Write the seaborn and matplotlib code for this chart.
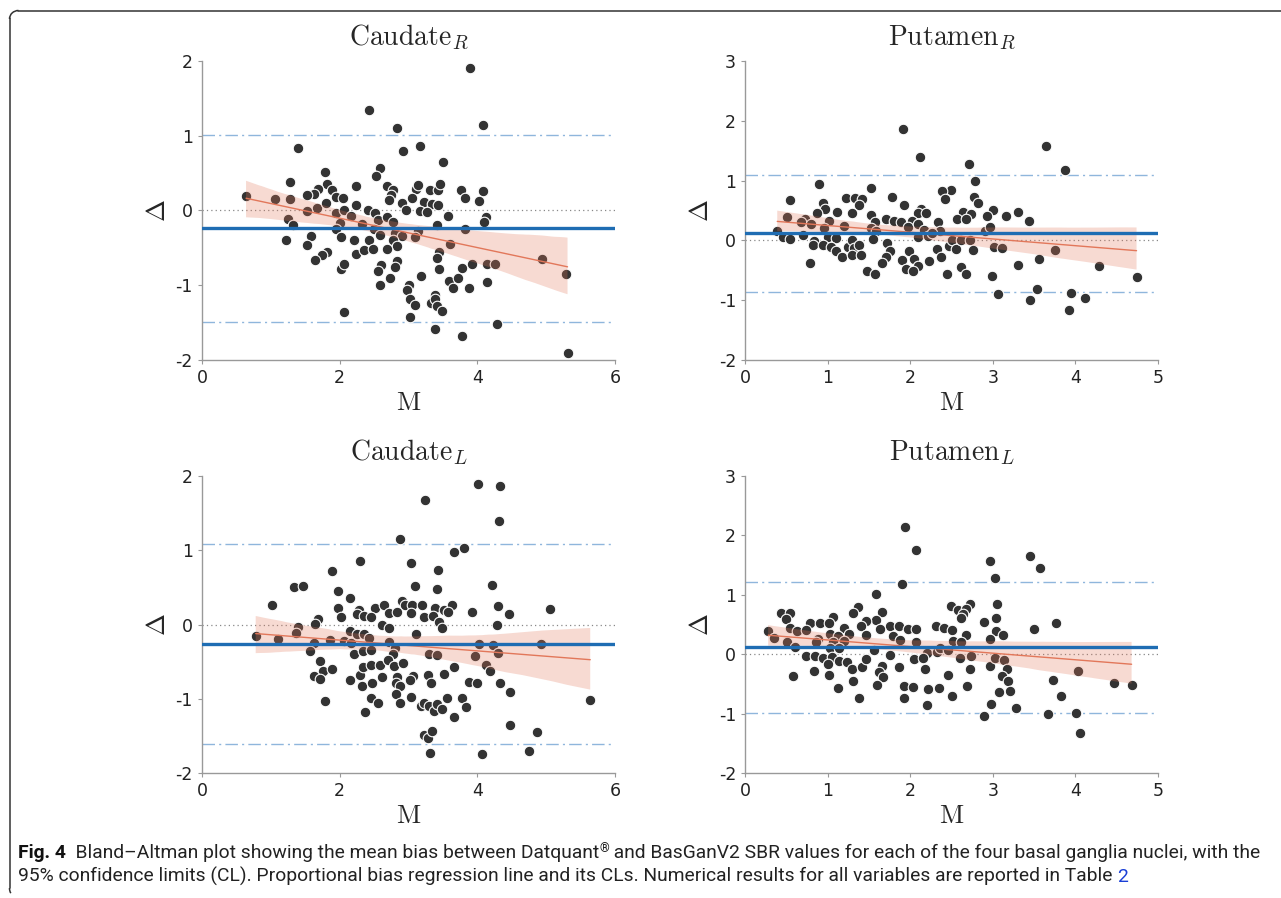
import matplotlib
matplotlib.use('Agg')
import matplotlib.pyplot as plt
from matplotlib import font_manager
from matplotlib.lines import Line2D
from matplotlib.patches import Arc
import seaborn as sns

# mean (M) and difference (delta) per nucleus
caudate_r_m = [3.90, 2.42, 4.08, 2.84, 1.40, 3.17, 2.92, 3.50, 2.58, 1.78, 2.53, 1.28, 1.81, 1.89, 2.24,
               2.69, 2.77, 1.68, 1.63, 1.53, 1.95, 2.05, 2.74, 2.71, 3.11, 3.14, 3.31, 3.43, 3.46, 3.76,
               3.82, 4.08, 4.02, 0.64, 1.06, 1.28, 1.67, 1.80, 1.53, 1.94, 2.07, 2.16, 2.23, 2.41, 2.51,
               2.90, 2.96, 3.05, 3.23, 3.34, 3.17, 3.27, 3.43, 3.58, 4.12, 4.09, 1.25, 1.32, 2.00, 1.95,
               2.32, 2.56, 2.50, 2.69, 2.77, 2.81, 2.91, 3.14, 3.10, 3.41, 3.82, 1.22, 1.58, 1.52, 2.02,
               2.21, 2.43, 2.58, 2.77, 2.84, 3.61, 1.81, 1.75, 1.64, 2.24, 2.36, 2.49, 2.69, 3.45, 3.42,
               2.84, 2.60, 2.80, 3.45, 3.78, 3.92, 4.14, 4.25, 4.94, 5.29, 2.02, 2.06, 2.55, 2.73, 3.18,
               2.58, 3.59, 3.72, 3.65, 3.88, 4.14, 3.01, 2.98, 3.02, 3.10, 3.32, 3.39, 3.38, 3.42, 3.49,
               2.06, 3.02, 3.38, 3.77, 4.29, 5.31]
caudate_r_d = [1.90, 1.35, 1.15, 1.10, 0.84, 0.86, 0.80, 0.65, 0.57, 0.51, 0.46, 0.38, 0.35, 0.28, 0.33,
               0.33, 0.27, 0.29, 0.22, 0.21, 0.18, 0.17, 0.21, 0.14, 0.29, 0.34, 0.27, 0.28, 0.35, 0.27,
               0.17, 0.26, 0.13, 0.20, 0.15, 0.16, 0.04, 0.10, -0.01, -0.04, 0.00, -0.07, 0.08, 0.01, -0.04,
               0.10, 0.00, 0.17, 0.11, 0.09, -0.01, -0.02, 0.07, -0.08, -0.09, -0.16, -0.11, -0.20, -0.17, -0.25,
               -0.18, -0.13, -0.25, -0.09, -0.16, -0.30, -0.34, -0.28, -0.36, -0.19, -0.25, -0.40, -0.34, -0.46, -0.35,
               -0.40, -0.40, -0.33, -0.40, -0.47, -0.45, -0.55, -0.60, -0.66, -0.58, -0.53, -0.51, -0.52, -0.55, -0.63,
               -0.68, -0.73, -0.76, -0.78, -0.77, -0.72, -0.72, -0.72, -0.65, -0.85, -0.78, -0.71, -0.81, -0.90, -0.88,
               -0.99, -0.94, -0.90, -1.04, -1.04, -0.95, -1.00, -1.06, -1.19, -1.27, -1.24, -1.13, -1.18, -1.28, -1.35,
               -1.36, -1.43, -1.58, -1.68, -1.52, -1.90]

putamen_r_m = [1.91, 2.12, 3.64, 2.71, 3.87, 2.79, 0.90, 1.52, 2.49, 2.38, 0.54, 1.22, 1.33, 1.42, 1.38,
               1.78, 1.93, 2.42, 2.77, 2.82, 0.95, 0.97, 1.11, 0.87, 1.30, 1.52, 2.13, 2.09, 2.19, 3.00,
               2.93, 3.16, 3.30, 2.64, 2.73, 0.51, 0.72, 0.68, 0.80, 1.02, 1.71, 1.80, 1.89, 2.02, 2.34,
               2.57, 2.68, 3.44, 1.57, 0.39, 0.96, 1.20, 1.52, 1.59, 1.97, 2.10, 2.17, 2.36, 2.91, 2.96,
               0.70, 0.46, 0.55, 1.00, 1.10, 1.55, 2.09, 2.21, 2.26, 0.83, 0.82, 0.94, 1.04, 1.10, 1.17,
               1.25, 1.29, 1.32, 1.38, 1.29, 1.40, 1.72, 1.76, 1.71, 1.66, 1.98, 2.04, 1.90, 2.09, 1.95,
               2.03, 2.23, 2.32, 2.37, 2.47, 2.51, 2.55, 2.62, 2.72, 2.76, 2.45, 2.62, 2.67, 1.48, 1.57,
               0.79, 3.01, 3.11, 3.75, 3.56, 3.30, 2.99, 3.06, 3.53, 3.45, 3.95, 4.12, 3.92, 4.28, 4.74]
putamen_r_d = [1.86, 1.40, 1.58, 1.28, 1.17, 0.99, 0.95, 0.88, 0.84, 0.83, 0.67, 0.71, 0.71, 0.69, 0.60,
               0.73, 0.59, 0.69, 0.73, 0.62, 0.62, 0.52, 0.48, 0.45, 0.45, 0.43, 0.52, 0.45, 0.45, 0.51,
               0.41, 0.40, 0.47, 0.47, 0.44, 0.39, 0.36, 0.30, 0.28, 0.32, 0.36, 0.33, 0.30, 0.32, 0.31,
               0.35, 0.35, 0.32, 0.30, 0.16, 0.21, 0.24, 0.21, 0.15, 0.22, 0.27, 0.17, 0.16, 0.16, 0.22,
               0.09, 0.06, 0.03, 0.06, 0.04, 0.02, 0.05, 0.08, 0.12, -0.01, -0.08, -0.07, -0.11, -0.17, -0.27,
               -0.11, 0.01, -0.12, -0.07, -0.25, -0.25, -0.04, -0.17, -0.27, -0.38, -0.18, -0.31, -0.33, -0.42, -0.47,
               -0.52, -0.34, -0.15, -0.28, -0.09, 0.00, -0.14, 0.01, 0.00, -0.16, -0.57, -0.44, -0.57, -0.51, -0.57,
               -0.37, -0.11, -0.13, -0.16, -0.31, -0.41, -0.59, -0.90, -0.82, -0.99, -0.88, -0.96, -1.16, -0.42, -0.62]

caudate_l_m = [4.01, 4.33, 3.24, 4.32, 2.88, 3.80, 3.66, 2.29, 3.04, 1.89, 3.43, 1.33, 1.46, 3.10, 4.21,
               1.97, 3.42, 2.15, 1.01, 1.97, 2.28, 2.52, 2.64, 2.91, 2.95, 3.05, 3.19, 3.39, 3.51, 3.63,
               3.58, 3.92, 4.30, 4.46, 5.05, 2.02, 2.25, 2.35, 2.46, 2.71, 2.83, 3.03, 3.22, 3.35, 3.44,
               1.68, 1.64, 1.40, 2.62, 2.71, 3.49, 4.28, 0.78, 1.10, 1.37, 1.63, 1.57, 1.86, 2.06, 2.15,
               2.17, 2.25, 2.35, 2.43, 2.72, 2.81, 2.77, 3.11, 3.30, 3.41, 4.03, 4.23, 4.92, 2.21, 2.34,
               2.46, 3.96, 4.30, 4.12, 4.18, 1.72, 1.76, 1.62, 1.71, 1.89, 2.15, 2.29, 2.34, 2.46, 2.58,
               2.70, 2.79, 2.92, 2.61, 2.84, 2.82, 2.87, 3.06, 3.02, 3.28, 3.33, 3.51, 3.66, 3.88, 3.99,
               4.33, 2.32, 2.47, 2.46, 2.55, 2.82, 2.88, 3.03, 1.79, 2.37, 3.18, 3.22, 3.30, 3.37, 3.41,
               3.49, 3.56, 3.78, 3.83, 3.66, 4.48, 5.64, 3.22, 3.29, 3.34, 3.31, 4.07, 4.47, 4.87, 4.75]
caudate_l_d = [1.89, 1.87, 1.67, 1.40, 1.15, 1.03, 0.98, 0.85, 0.83, 0.72, 0.73, 0.50, 0.52, 0.52, 0.53,
               0.45, 0.48, 0.36, 0.27, 0.22, 0.20, 0.23, 0.27, 0.32, 0.26, 0.26, 0.26, 0.23, 0.19, 0.26,
               0.17, 0.17, 0.25, 0.14, 0.21, 0.10, 0.14, 0.11, 0.10, 0.16, 0.17, 0.16, 0.10, 0.11, 0.04,
               0.08, 0.01, -0.03, 0.00, -0.04, -0.04, 0.00, -0.16, -0.20, -0.11, -0.25, -0.35, -0.21, -0.22, -0.08,
               -0.25, -0.13, -0.12, -0.18, -0.24, -0.32, -0.39, -0.13, -0.39, -0.41, -0.26, -0.28, -0.26, -0.40, -0.35,
               -0.34, -0.42, -0.38, -0.54, -0.62, -0.49, -0.62, -0.69, -0.73, -0.60, -0.74, -0.68, -0.57, -0.55, -0.54,
               -0.48, -0.56, -0.51, -0.70, -0.70, -0.78, -0.83, -0.69, -0.75, -0.68, -0.79, -0.66, -0.57, -0.77, -0.79,
               -0.78, -0.83, -0.78, -0.99, -1.05, -0.93, -1.05, -0.97, -1.03, -1.18, -1.09, -1.06, -1.09, -1.16, -1.07,
               -1.13, -0.99, -0.99, -1.11, -1.24, -0.90, -1.01, -1.48, -1.53, -1.43, -1.73, -1.74, -1.35, -1.45, -1.70]

putamen_l_m = [1.94, 2.07, 3.45, 2.97, 3.57, 3.03, 1.90, 1.59, 3.05, 2.72, 2.49, 1.37, 1.31, 1.66, 0.43,
               0.55, 0.50, 1.07, 2.58, 2.67, 2.64, 2.61, 3.04, 2.89, 3.77, 1.59, 1.47, 0.79, 0.91, 1.02,
               0.54, 1.20, 1.41, 1.76, 1.86, 1.97, 2.07, 1.63, 2.31, 2.41, 2.50, 3.50, 3.04, 3.12, 0.28,
               0.63, 0.74, 1.03, 1.26, 1.47, 1.79, 2.68, 0.35, 0.88, 1.13, 1.07, 1.20, 1.88, 2.07, 2.52,
               2.61, 2.97, 0.51, 0.60, 0.86, 1.03, 1.14, 1.56, 2.20, 2.32, 2.36, 2.46, 0.74, 0.85, 0.95,
               1.05, 1.75, 1.01, 1.02, 1.14, 1.23, 1.29, 1.42, 1.46, 1.66, 1.62, 1.67, 1.86, 2.04, 2.16,
               2.18, 2.60, 2.73, 2.72, 2.97, 3.03, 3.13, 3.17, 3.11, 3.18, 3.21, 3.08, 2.46, 2.69, 0.58,
               0.84, 1.31, 1.13, 1.38, 1.60, 1.92, 2.03, 1.93, 2.22, 2.35, 2.50, 2.20, 2.98, 3.28, 2.89,
               3.73, 3.82, 3.67, 4.01, 4.06, 4.03, 4.47, 4.68]
putamen_l_d = [2.14, 1.75, 1.65, 1.57, 1.45, 1.28, 1.18, 1.02, 0.85, 0.84, 0.82, 0.80, 0.69, 0.71, 0.69,
               0.70, 0.59, 0.63, 0.75, 0.76, 0.68, 0.61, 0.61, 0.55, 0.52, 0.57, 0.56, 0.52, 0.52, 0.52,
               0.45, 0.45, 0.47, 0.48, 0.47, 0.43, 0.42, 0.43, 0.48, 0.45, 0.41, 0.42, 0.39, 0.32, 0.39,
               0.40, 0.41, 0.34, 0.35, 0.32, 0.31, 0.32, 0.28, 0.26, 0.30, 0.20, 0.22, 0.24, 0.20, 0.23,
               0.20, 0.25, 0.20, 0.12, 0.20, 0.10, 0.10, 0.07, 0.03, 0.04, 0.11, 0.08, -0.02, -0.03, -0.06,
               -0.05, -0.01, -0.17, -0.35, -0.11, -0.13, -0.25, -0.21, -0.08, -0.20, -0.29, -0.38, -0.22, -0.08, -0.07,
               -0.24, -0.06, -0.02, -0.25, -0.19, -0.06, -0.09, -0.25, -0.36, -0.45, -0.62, -0.64, -0.35, -0.53, -0.36,
               -0.28, -0.44, -0.57, -0.74, -0.52, -0.53, -0.55, -0.73, -0.59, -0.56, -0.70, -0.85, -0.84, -0.90, -1.04,
               -0.43, -0.70, -1.00, -0.99, -1.32, -0.28, -0.49, -0.52]

# bias and 95% limits of agreement (lower, bias, upper)
caudate_r_lines = [-1.49, -0.235, 1.015]
putamen_r_lines = [-0.855, 0.12, 1.10]
caudate_l_lines = [-1.61, -0.265, 1.08]
putamen_l_lines = [-0.98, 0.123, 1.222]

panels = [
    ('Caudate', 'R', caudate_r_m, caudate_r_d, caudate_r_lines, 6, [-2, -1, 0, 1, 2]),
    ('Putamen', 'R', putamen_r_m, putamen_r_d, putamen_r_lines, 5, [-2, -1, 0, 1, 2, 3]),
    ('Caudate', 'L', caudate_l_m, caudate_l_d, caudate_l_lines, 6, [-2, -1, 0, 1, 2]),
    ('Putamen', 'L', putamen_l_m, putamen_l_d, putamen_l_lines, 5, [-2, -1, 0, 1, 2, 3]),
]

sns.set_style('ticks')
plt.rcParams['mathtext.fontset'] = 'cm'
plt.rcParams['font.family'] = ['DejaVu Sans']
plt.rcParams['axes.unicode_minus'] = False

names = {f.name for f in font_manager.fontManager.ttflist}
cap_font = 'Liberation Sans Narrow' if 'Liberation Sans Narrow' in names else 'Roboto'

fig = plt.figure(figsize=(12.81, 8.98), dpi=100)

boxes = [[0.1577, 0.5991, 0.3224, 0.3330],
         [0.5816, 0.5991, 0.3224, 0.3330],
         [0.1577, 0.1389, 0.3224, 0.3311],
         [0.5816, 0.1389, 0.3224, 0.3311]]

dark = '#333333'
salmon = '#e2775a'

for box, (name, side, m, d, lines, xmax, yticks) in zip(boxes, panels):
    ax = fig.add_axes(box)
    sns.scatterplot(x=m, y=d, ax=ax, s=58, color=dark, edgecolor='white', linewidth=0.8, zorder=2)
    sns.regplot(x=m, y=d, ax=ax, scatter=False, ci=95, seed=3, color=salmon,
                line_kws=dict(lw=1.0, zorder=4))
    band = ax.collections[-1]
    band.set_alpha(0.27)
    band.set_zorder(3)
    band.set_edgecolor('none')

    ax.axhline(0, color='#888888', lw=0.9, ls=(0, (1, 2.5)), zorder=1)
    ax.axhline(lines[1], color='#1f6db3', lw=2.4, zorder=5)
    for v in (lines[0], lines[2]):
        ax.axhline(v, color='#8fb6dc', lw=1.0, dashes=(9, 3, 1.5, 3), zorder=1)

    ax.set_xlim(0, xmax)
    ax.set_ylim(yticks[0], yticks[-1])
    ax.set_xticks(range(0, xmax + 1, 2 if xmax == 6 else 1))
    ax.set_yticks(yticks)
    ax.tick_params(labelsize=12.5, labelcolor='#222222', color='#999999', length=3, width=0.8)
    for s in ('left', 'bottom'):
        ax.spines[s].set_color('#999999')
        ax.spines[s].set_linewidth(1.0)
    sns.despine(ax=ax)

    ax.set_title(r'$\mathrm{%s}_{%s}$' % (name, side), fontsize=20, pad=11)
    ax.set_xlabel(r'$\mathrm{M}$', fontsize=19, labelpad=2)
    ax.set_ylabel(r'$\Delta$', fontsize=19, labelpad=3)

# frame around figure + caption
frame = '#333333'
fig.add_artist(Line2D([18 / 1281, 1], [1 - 10.5 / 898] * 2, color=frame, lw=1.1))
fig.add_artist(Line2D([9.5 / 1281] * 2, [1 - 18 / 898, 1 - 888 / 898], color=frame, lw=1.1))
fig.add_artist(Arc((18.5 / 1281, 1 - 19 / 898), 18 / 1281, 17 / 898, theta1=90, theta2=180,
                   color=frame, lw=1.1))
fig.add_artist(Arc((13.5 / 1281, 1 - 888 / 898), 8 / 1281, 14 / 898, theta1=180, theta2=250,
                   color=frame, lw=1.1))

cap = fig.add_axes([0, 0, 1, 1], zorder=-1)
cap.axis('off')
fs = 13.85
t = cap.text(18 / 1281, 1 - 858 / 898, 'Fig. 4', fontsize=fs, weight='bold', family=cap_font,
             color='#111111', va='baseline')
t = cap.annotate('  Bland\u2013Altman plot showing the mean bias between Datquant', xy=(1, 0),
                 xycoords=t, va='bottom', fontsize=fs, family=cap_font, color='#222222')
r = cap.annotate('\u00ae', xy=(1, 0), xycoords=t, va='bottom', xytext=(0, 5), textcoords='offset points',
                 fontsize=fs * 0.65, family=cap_font, color='#222222')
cap.annotate(' and BasGanV2 SBR values for each of the four basal ganglia nuclei, with the', xy=(1, 0),
             xycoords=t, xytext=(r.get_window_extent(fig.canvas.get_renderer()).width, 0),
             textcoords='offset pixels', va='bottom', fontsize=fs, family=cap_font, color='#222222')
t = cap.text(18 / 1281, 1 - 882 / 898, '95% confidence limits (CL). Proportional bias regression line and '
             'its CLs. Numerical results for all variables are reported in Table ', fontsize=fs,
             family=cap_font, color='#222222', va='baseline')
cap.annotate('2', xy=(1, 0), xycoords=t, va='bottom', fontsize=fs, family=cap_font, color='#1a3fd6')

fig.savefig('out.png', dpi=100)
